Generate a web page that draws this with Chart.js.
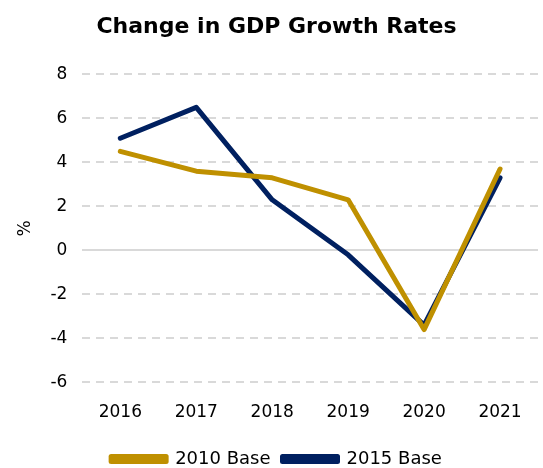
<!DOCTYPE html>
<html>
<head>
<meta charset="utf-8">
<script src="https://cdn.jsdelivr.net/npm/chart.js@4"></script>
<style>
 html, body { margin: 0; padding: 0; background: #fff; }
 #wrap { width: 543px; height: 468px; }
</style>
</head>
<body>
<div id="wrap"><canvas id="chart"></canvas></div>
<script>
const years = ['2016', '2017', '2018', '2019', '2020', '2021'];
const base2010 = [4.5, 3.6, 3.3, 2.3, -3.6, 3.7];
const base2015 = [5.1, 6.5, 2.3, -0.2, -3.4, 3.3];

const FONT = '"DejaVu Sans", sans-serif';

new Chart(document.getElementById('chart'), {
 type: 'line',
 data: {
 labels: years,
 datasets: [
 { label: '2010 Base', data: base2010, borderColor: '#BF9000', backgroundColor: '#BF9000', borderWidth: 5, pointRadius: 0, tension: 0, borderCapStyle: 'round', borderJoinStyle: 'round' },
 { label: '2015 Base', data: base2015, borderColor: '#002060', backgroundColor: '#002060', borderWidth: 5, pointRadius: 0, tension: 0, borderCapStyle: 'round', borderJoinStyle: 'round' },
 ],
 },
 options: {
 responsive: true,
 maintainAspectRatio: false,
 animation: false,
 layout: { padding: { left: 15, right: 5, top: 12, bottom: -10 } },
 plugins: {
 title: {
 display: true,
 text: 'Change in GDP Growth Rates',
 color: '#000',
 font: { family: FONT, size: 22, weight: 'bold' },
 padding: { top: 2, bottom: 34 },
 },
 legend: {
 position: 'bottom',
 labels: {
 color: '#000',
 font: { family: FONT, size: 18 },
 boxWidth: 55,
 boxHeight: 5,
 padding: 12,
 },
 },
 tooltip: { enabled: false },
 },
 scales: {
 x: {
 offset: true,
 grid: { display: false },
 border: { display: false },
 ticks: { color: '#000', font: { family: FONT, size: 17 }, padding: 12 },
 title: { display: true, text: '', font: { size: 1 }, padding: { top: 0, bottom: 2 } },
 },
 y: {
 min: -6,
 max: 8,
 ticks: { stepSize: 2, color: '#000', font: { family: FONT, size: 17 }, padding: 15 },
 grid: { color: '#d9d9d9', lineWidth: 2, drawTicks: false },
 border: { display: false, dash: ctx => ctx.tick && ctx.tick.value === 0 ? [] : [8, 6] },
 title: { display: true, text: '%', color: '#000', font: { family: FONT, size: 17 }, padding: 0 },
 },
 },
 },
});
</script>
</body>
</html>
